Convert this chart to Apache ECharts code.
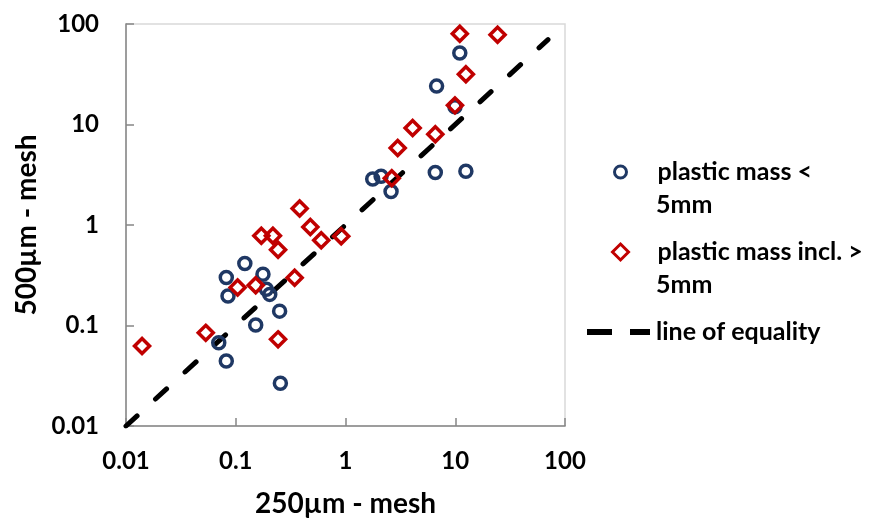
<!DOCTYPE html>
<html>
<head>
<meta charset="utf-8">
<script src="https://cdn.jsdelivr.net/npm/echarts@6/dist/echarts.min.js"></script>
<style>
    html, body {margin: 0; padding: 0; background: #fff;}
    #chart0 {width: 870px; height: 523px;}
</style>
</head>
<body>
<div id="chart0"></div>
<script>
// 250um mesh (x) vs 500um mesh (y)
var smallX = [0.121, 0.082, 0.177, 0.085, 0.19, 0.204, 0.251, 0.152, 0.07, 0.082, 0.255,
    11.0, 6.76, 9.94, 1.77, 2.11, 2.6, 6.58, 12.5];
var smallY = [0.414, 0.301, 0.324, 0.197, 0.229, 0.204, 0.139, 0.101, 0.0673, 0.0443, 0.0266,
    51.4, 24.1, 15.0, 2.87, 3.06, 2.15, 3.33, 3.43];
var allX = [0.382, 0.478, 0.601, 0.914, 0.171, 0.218, 0.243, 0.344, 0.104, 0.152, 0.0533, 0.243, 0.014,
    11.0, 24.3, 12.5, 9.94, 4.09, 6.58, 2.99, 2.64];
var allY = [1.46, 0.957, 0.706, 0.774, 0.78, 0.78, 0.568, 0.298, 0.239, 0.252, 0.0845, 0.0728, 0.0624,
    80.1, 78.3, 31.6, 15.5, 9.23, 8.0, 5.84, 2.92];
var equality = [0.01, 70];
var tickLabels = ['0.01', '0.1', '1', '10', '100'];
var names = ['plastic mass <', 'plastic mass incl. >', 'line of equality'];

function pairs(xs, ys) {
    var out = [];
    for (var i = 0; i < xs.length; i++) {
        out.push([xs[i], ys[i]]);
    }
    return out;
}

function tickText(v) {
    var e = Math.round(Math.log10(v)) + 2;
    return tickLabels[e] !== undefined ? tickLabels[e] : '';
}

var font = 'Lato';
var navy = '#1F3864';
var red = '#C00000';
var legendText = {fontFamily: font, fontWeight: 'bold', fontSize: 25, lineHeight: 30, color: '#000'};

var axisCommon = {
    type: 'log',
    logBase: 10,
    min: 0.01,
    max: 100,
    axisLine: {lineStyle: {color: '#868686', width: 1.5}},
    axisTick: {inside: true, length: 8, lineStyle: {color: '#868686', width: 1.5}},
    splitLine: {show: false},
    minorTick: {show: false},
    nameTextStyle: {fontFamily: font, fontWeight: 'bold', fontSize: 28, color: '#000'}
};
var labelCommon = {formatter: tickText, fontFamily: font, fontWeight: 'bold', fontSize: 24, color: '#000'};

// one legend per entry so each can sit at its own height
function legendAt(item, left, top, w, h) {
    return {
        orient: 'vertical',
        left: left,
        top: top,
        padding: 0,
        itemWidth: w,
        itemHeight: h,
        selectedMode: false,
        textStyle: Object.assign({}, legendText, {padding: [0, 0, 0, 651 - left - w]}),
        data: [item]
    };
}

var option0 = {
    animation: false,
    backgroundColor: '#fff',
    grid: {
        left: 126,
        right: 305,
        top: 24,
        bottom: 97,
        show: true,
        borderColor: '#d9d9d9',
        borderWidth: 1.5
    },
    legend: [
        legendAt({name: names[0], icon: 'circle',
            itemStyle: {color: 'rgba(0,0,0,0)', borderColor: navy, borderWidth: 3, opacity: 1}}, 613, 157, 12, 12),
        legendAt({name: names[1], icon: 'diamond',
            itemStyle: {color: 'rgba(0,0,0,0)', borderColor: red, borderWidth: 3, opacity: 1}}, 611, 237, 16, 16),
        legendAt({name: names[2], icon: 'path://M0,0L25,0L25,6L0,6Z M43,0L63,0L63,6L43,6Z',
            itemStyle: {color: '#000', borderWidth: 0}}, 587, 317, 63, 6)
    ],
    graphic: [
        {type: 'text', style: {x: 656, y: 205, verticalAlign: 'middle', text: '5mm', font: 'bold 25px Lato', fill: '#000'}},
        {type: 'text', style: {x: 656, y: 285, verticalAlign: 'middle', text: '5mm', font: 'bold 25px Lato', fill: '#000'}}
    ],
    xAxis: Object.assign({}, axisCommon, {
        name: '250µm - mesh',
        nameLocation: 'middle',
        nameGap: 64,
        axisLabel: Object.assign({margin: 23}, labelCommon)
    }),
    yAxis: Object.assign({}, axisCommon, {
        name: '500µm - mesh',
        nameLocation: 'middle',
        nameGap: 84,
        axisLabel: Object.assign({margin: 27}, labelCommon)
    }),
    series: [
        {
            name: names[2],
            type: 'line',
            z: 1,
            symbol: 'none',
            lineStyle: {color: '#000', width: 5, type: [15, 25], cap: 'round'},
            data: pairs(equality, equality)
        },
        {
            name: names[0],
            type: 'scatter',
            z: 2,
            symbol: 'circle',
            symbolSize: 12,
            itemStyle: {color: 'rgba(255,255,255,0)', borderColor: navy, borderWidth: 3.5, opacity: 1},
            data: pairs(smallX, smallY)
        },
        {
            name: names[1],
            type: 'scatter',
            z: 3,
            symbol: 'diamond',
            symbolSize: 15,
            itemStyle: {color: 'rgba(255,255,255,0)', borderColor: red, borderWidth: 3.5, opacity: 1},
            data: pairs(allX, allY)
        }
    ]
};

var myChart0 = echarts.init(document.getElementById('chart0'));
myChart0.setOption(option0);
</script>
</body>
</html>
